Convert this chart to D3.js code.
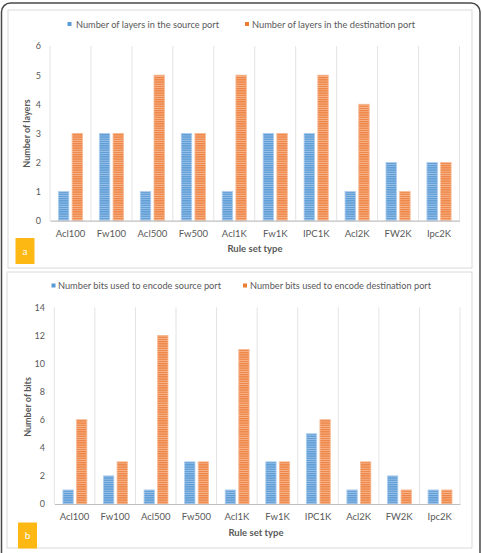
<!DOCTYPE html>
<html><head><meta charset="utf-8">
<script src="https://cdn.jsdelivr.net/npm/d3@7"></script>
<style>body{margin:0;background:#fff}svg{display:block}text{font-family:Lato,"Open Sans",sans-serif}</style>
</head><body>
<script>
const categories = ["Acl100","Fw100","Acl500","Fw500","Acl1K","Fw1K","IPC1K","Acl2K","FW2K","Ipc2K"];
const layersSource = [1,3,1,3,1,3,3,1,2,2];
const layersDest   = [3,3,5,3,5,3,5,4,1,2];
const bitsSource   = [1,2,1,3,1,3,5,1,2,1];
const bitsDest     = [6,3,12,3,11,3,6,3,1,1];
const ticksA = [0,1,2,3,4,5,6];
const ticksB = [0,2,4,6,8,10,12,14];

const svg = d3.select("body").append("svg").attr("width",482).attr("height",553);
const defs = svg.append("defs");
function pat(id, base, stripe){
  const p = defs.append("pattern").attr("id",id).attr("patternUnits","userSpaceOnUse").attr("width",4).attr("height",2.2);
  p.append("rect").attr("width",4).attr("height",2.2).attr("fill",base);
  p.append("rect").attr("y",1.3).attr("width",4).attr("height",0.9).attr("fill",stripe);
}
pat("pb","#5b9bd5","#9cc3ea");
pat("po","#ee8344","#f7b68d");

// outer frame
svg.append("rect").attr("x",1.5).attr("y",3).attr("width",478.5).attr("height",580).attr("rx",9)
  .attr("fill","#fff").attr("stroke","#4a4a4a").attr("stroke-width",1.5);

function panel(cfg){
  const g = svg.append("g");
  g.append("rect").attr("x",cfg.box[0]).attr("y",cfg.box[1]).attr("width",cfg.box[2]-cfg.box[0]).attr("height",cfg.box[3]-cfg.box[1])
    .attr("fill","#fff").attr("stroke","#d9d9d9").attr("stroke-width",1);
  const x = d3.scaleBand().domain(categories).range([cfg.x0,cfg.x1]).paddingInner(0).paddingOuter(0);
  const y = d3.scaleLinear().domain([0,cfg.max]).range([cfg.y0,cfg.yTop]);
  // vertical category separators
  const seps = categories.map(c=>x(c)).concat([cfg.x1]);
  g.selectAll(".sep").data(seps).join("line").attr("x1",d=>d).attr("x2",d=>d)
    .attr("y1",y(cfg.max)).attr("y2",cfg.y0).attr("stroke","#e3e3e3").attr("stroke-width",1);
  // y axis labels
  const ya = d3.axisLeft(y).tickValues(cfg.ticks).tickSize(0).tickPadding(0).tickFormat(d3.format("d"));
  const yg = g.append("g").attr("transform",`translate(${cfg.tickX},0)`).call(ya);
  yg.select(".domain").remove();
  yg.selectAll("text").attr("fill","#595959").attr("font-size",9);
  // bars
  const bw = x.bandwidth()*0.255, gap = x.bandwidth()*0.08;
  const series = [{vals:cfg.s1,fill:"url(#pb)",stroke:"#aecdee",off:-gap/2-bw},{vals:cfg.s2,fill:"url(#po)",stroke:"#f6bb96",off:gap/2}];
  series.forEach(s=>{
    g.selectAll(null).data(categories).join("rect")
      .attr("x",(c)=>x(c)+x.bandwidth()/2+s.off+cfg.shift)
      .attr("y",(c,i)=>y(s.vals[i]))
      .attr("width",bw).attr("height",(c,i)=>cfg.y0-y(s.vals[i]))
      .attr("fill",s.fill).attr("stroke",s.stroke).attr("stroke-width",0.8);
  });
  // x axis
  const xa = d3.axisBottom(x).tickSize(0).tickPadding(0);
  const xg = g.append("g").attr("transform",`translate(0,${cfg.y0})`).call(xa);
  xg.select(".domain").attr("stroke","#bfbfbf").attr("stroke-width",1.2);
  xg.selectAll("text").attr("fill","#595959").attr("font-size",9.5).attr("dy",0).attr("y",cfg.xlabY-cfg.y0+3);
  // axis titles
  g.append("text").attr("x",cfg.xTitle[0]).attr("y",cfg.xTitle[1]).attr("text-anchor","middle")
    .attr("font-size",9.5).attr("font-weight","bold").attr("fill","#595959").text("Rule set type");
  g.append("text").attr("transform",`translate(${cfg.yTitle[0]},${cfg.yTitle[1]}) rotate(-90)`).attr("text-anchor","middle")
    .attr("font-size",9).attr("font-weight","bold").attr("fill","#595959").text(cfg.yLabel);
  // legend
  cfg.legend.forEach((L,i)=>{
    g.append("rect").attr("x",L.sx).attr("y",cfg.legY-2.5).attr("width",4).attr("height",4).attr("fill",i?"#ed7d31":"#5b9bd5");
    g.append("text").attr("x",L.tx).attr("y",cfg.legY+3).attr("font-size",9).attr("fill","#595959")
      .attr("textLength",L.tw).attr("lengthAdjust","spacingAndGlyphs").text(L.text);
  });
  // panel tag
  g.append("rect").attr("x",cfg.tag[0]).attr("y",cfg.tag[1]).attr("width",cfg.tag[2]).attr("height",cfg.tag[3]).attr("fill","#fdb813");
  g.append("text").attr("x",cfg.tag[0]+cfg.tag[2]/2).attr("y",cfg.tag[1]+cfg.tag[3]/2+3.5).attr("text-anchor","middle")
    .attr("font-size",10).attr("fill","#fff").text(cfg.tagText);
}

panel({box:[8,10,472,268], x0:50, x1:459.5, y0:220.7, yTop:46, max:6, ticks:ticksA, tickX:41,
  s1:layersSource, s2:layersDest, shift:0, xlabY:234, xTitle:[255,252], yTitle:[30,133.5], yLabel:"Number of layers",
  legY:24.5, legend:[{sx:67.5,tx:76,tw:143,text:"Number of layers in the source port"},{sx:245,tx:252,tw:163,text:"Number of layers in the destination port"}],
  tag:[15.5,238,19,26], tagText:"a"});

panel({box:[7,272,472,548], x0:54.3, x1:460, y0:504, yTop:307.3, max:14, ticks:ticksB, tickX:45,
  s1:bitsSource, s2:bitsDest, shift:0.3, xlabY:517, xTitle:[256,536], yTitle:[31,407], yLabel:"Number of bits",
  legY:286, legend:[{sx:51.5,tx:58,tw:163,text:"Number bits used to encode source port"},{sx:243,tx:250,tw:181,text:"Number bits used to encode destination port"}],
  tag:[18,522.5,19,26], tagText:"b"});
</script>
</body></html>
